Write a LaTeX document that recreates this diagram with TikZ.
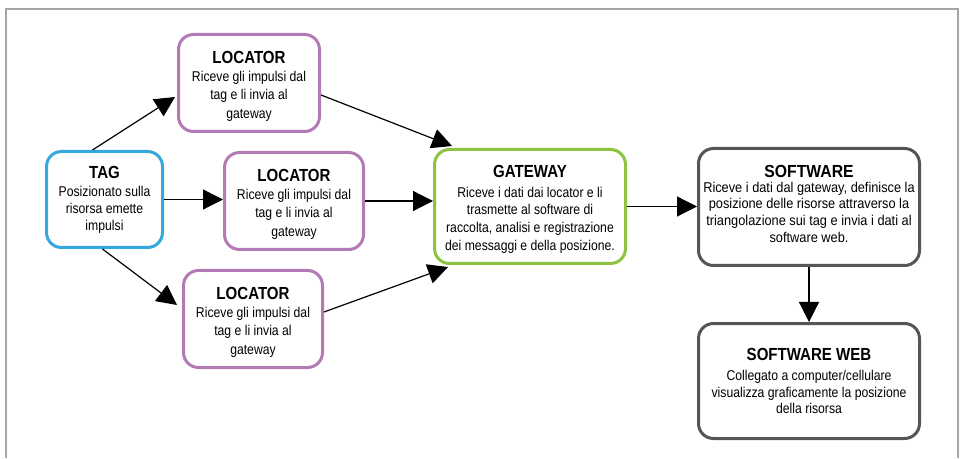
\documentclass[tikz,border=0pt]{standalone}
\usepackage{fontspec}
\setmainfont{Liberation Sans}[FakeStretch=0.86]
\newfontfamily\swfont{Liberation Sans}[FakeStretch=0.9]
\usetikzlibrary{arrows.meta,calc}
\definecolor{tagc}{HTML}{35A8DF}
\definecolor{locc}{HTML}{B47AB6}
\definecolor{gwc}{HTML}{8CC43F}
\definecolor{swc}{HTML}{555555}
\definecolor{framec}{HTML}{A6A6A6}
\newcommand{\ttl}[3]{{\fontsize{17.5}{20}\selectfont\bfseries\rule{0pt}{#1}#3}\\[#2]}
\begin{document}
\begin{tikzpicture}[x=1pt,y=1pt,
  box/.style={draw, line width=3pt, rounded corners=15pt, fill=white, align=center, inner sep=0pt},
  conn/.style={line width=1.2pt, -{Triangle[length=20pt,width=20pt]}}]
\useasboundingbox (0,0) rectangle (963,458);
\draw[framec, line width=2pt] (6,0) -- (6,449) -- (958,449) -- (958,0);

\node[box, draw=tagc, minimum width=116pt, minimum height=96pt, font=\fontsize{14.2}{16.8}\selectfont] (tag) at (104.5,258.5)
  {\ttl{12.5pt}{1.6pt}{TAG}Posizionato sulla\\risorsa emette\\impulsi};
\node[box, draw=locc, minimum width=141pt, minimum height=97pt, font=\fontsize{14.2}{18.3}\selectfont] (l1) at (249,375)
  {\ttl{18.5pt}{0.1pt}{LOCATOR}Riceve gli impulsi dal\\tag e li invia al\\gateway};
\node[box, draw=locc, minimum width=139pt, minimum height=97pt, font=\fontsize{14.2}{18.3}\selectfont] (l2) at (294,257)
  {\ttl{18.5pt}{0.1pt}{LOCATOR}Riceve gli impulsi dal\\tag e li invia al\\gateway};
\node[box, draw=locc, minimum width=139pt, minimum height=97pt, font=\fontsize{14.2}{18.3}\selectfont] (l3) at (253,139)
  {\ttl{18.5pt}{0.1pt}{LOCATOR}Riceve gli impulsi dal\\tag e li invia al\\gateway};
\node[box, draw=gwc, minimum width=191pt, minimum height=114pt, font=\fontsize{14.2}{17.8}\selectfont] (gw) at (530,251.5)
  {\ttl{17.5pt}{2.2pt}{GATEWAY}Riceve i dati dai locator e li\\trasmette al software di\\raccolta, analisi e registrazione\\dei messaggi e della posizione.};
\node[box, draw=swc, minimum width=221pt, minimum height=117pt, font=\swfont\fontsize{14.2}{16.7}\selectfont] (sw) at (809,251)
  {\ttl{12.5pt}{-1.7pt}{SOFTWARE}Riceve i dati dal gateway, definisce la\\posizione delle risorse attraverso la\\triangolazione sui tag e invia i dati al\\software web.\rule[-7pt]{0pt}{7pt}};
\node[box, draw=swc, minimum width=221pt, minimum height=115pt, font=\fontsize{14.2}{16.7}\selectfont] (sww) at (809,77)
  {\ttl{12.5pt}{3.3pt}{SOFTWARE WEB}Collegato a computer/cellulare\\visualizza graficamente la posizione\\della risorsa};

\draw[conn] ([xshift=-12pt]tag.north) -- ([xshift=-2pt,yshift=-14pt]l1.west);
\draw[conn] (tag.east) -- (tag.east -| l2.west);
\draw[conn] ([xshift=-2pt]tag.south) -- ([xshift=-5pt,yshift=14pt]l3.west);
\draw[conn] ([yshift=-12pt]l1.east) -- ([xshift=19pt,yshift=2pt]gw.north west);
\draw[conn] (l2.east) -- (l2.east -| gw.west);
\draw[conn] ([yshift=7pt]l3.east) -- ([xshift=15pt,yshift=-2pt]gw.south west);
\draw[conn] (gw.east) -- (gw.east -| sw.west);
\draw[conn] (sw.south) -- (sww.north);
\end{tikzpicture}
\end{document}
